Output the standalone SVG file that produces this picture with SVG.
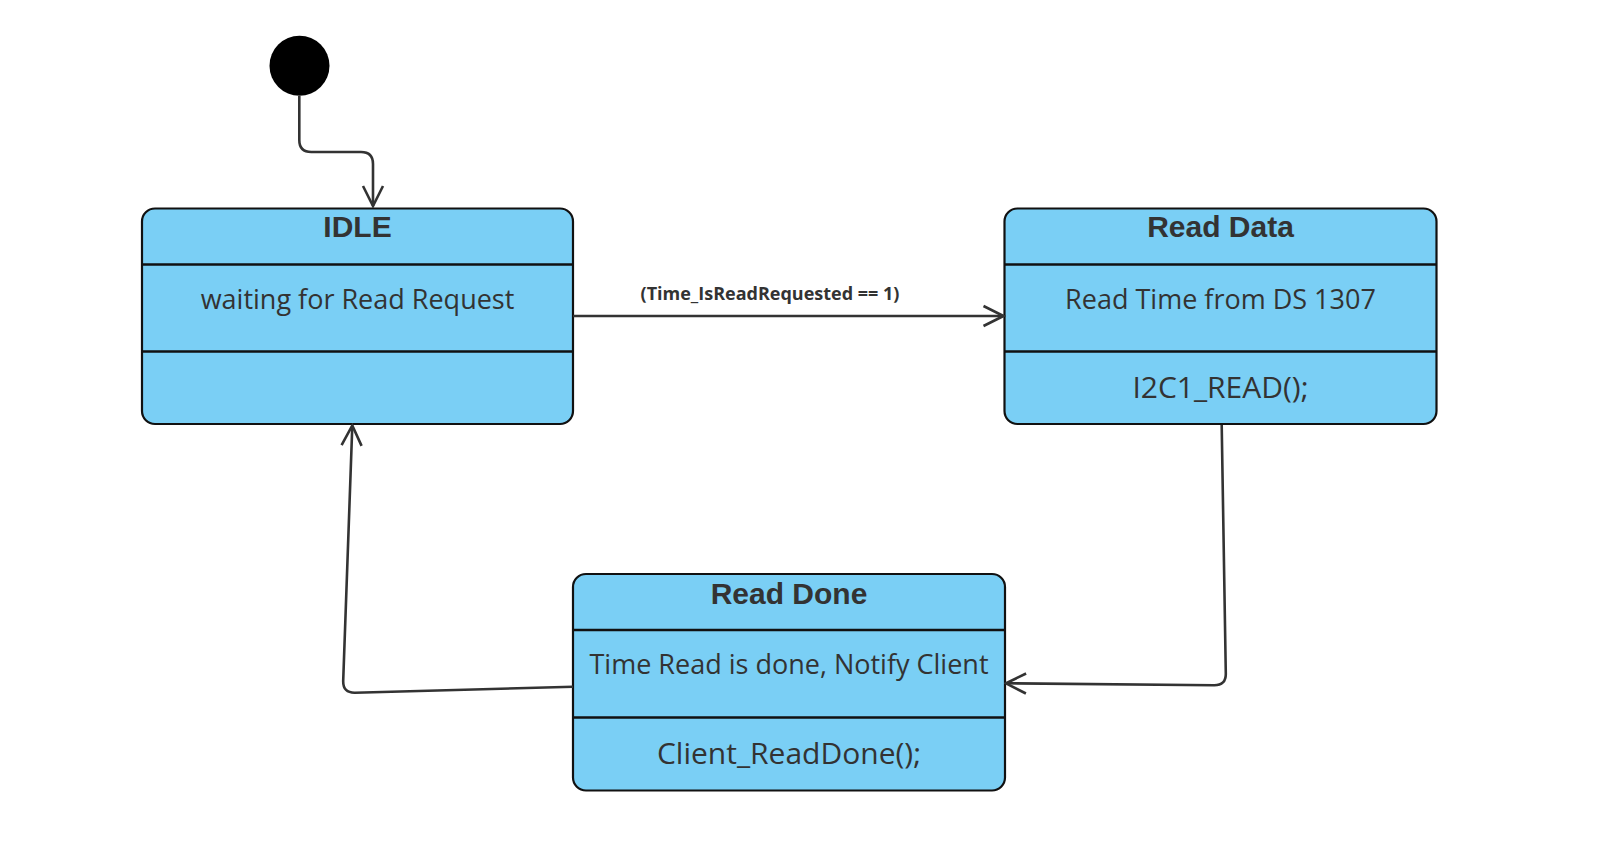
<svg xmlns="http://www.w3.org/2000/svg" width="1612" height="842" viewBox="0 0 1612 842">
<defs>
<style>
.box{fill:#7acff5;stroke:#111;stroke-width:2.2}
.div{stroke:#111;stroke-width:2.5}
.title{font-family:"Liberation Sans",Arial,sans-serif;font-weight:bold;font-size:30px;fill:#333;text-anchor:middle}
.body{font-family:"Open Sans","Noto Sans",sans-serif;font-size:27px;fill:#333;text-anchor:middle}
.act{font-family:"Open Sans","Noto Sans",sans-serif;font-size:30px;fill:#333;text-anchor:middle}
.lbl{font-family:"Open Sans","Noto Sans",sans-serif;font-weight:bold;font-size:18px;fill:#333;text-anchor:middle}
.con{fill:none;stroke:#333;stroke-width:2.6;stroke-linejoin:round}
</style>
<marker id="arr" viewBox="0 0 24 24" refX="22" refY="12" markerWidth="24" markerHeight="24" markerUnits="userSpaceOnUse" orient="auto">
<path d="M2,2 L22,12 L2,22" fill="none" stroke="#333" stroke-width="2.6"/>
</marker>
</defs>
<rect width="1612" height="842" fill="#fff"/>
<g id="start">
<circle cx="299.5" cy="65.7" r="30" fill="#000"/>
</g>
<g id="idle">
<rect class="box" x="142" y="208.5" width="431" height="215.5" rx="13"/>
<line class="div" x1="142" y1="264.5" x2="573" y2="264.5"/>
<line class="div" x1="142" y1="351.5" x2="573" y2="351.5"/>
<text class="title" x="357.5" y="237">IDLE</text>
<text class="body" x="357.5" y="308.5">waiting for Read Request</text>
</g>
<g id="readdata">
<rect class="box" x="1004.5" y="208.5" width="432" height="215.5" rx="13"/>
<line class="div" x1="1004.5" y1="264.5" x2="1436.5" y2="264.5"/>
<line class="div" x1="1004.5" y1="351.5" x2="1436.5" y2="351.5"/>
<text class="title" x="1220.5" y="237">Read Data</text>
<text class="body" x="1220.5" y="308.5">Read Time from DS 1307</text>
<text class="act" x="1220.5" y="398">I2C1_READ();</text>
</g>
<g id="readdone">
<rect class="box" x="573" y="574" width="432" height="216.5" rx="13"/>
<line class="div" x1="573" y1="630" x2="1005" y2="630"/>
<line class="div" x1="573" y1="717.5" x2="1005" y2="717.5"/>
<text class="title" x="789" y="604">Read Done</text>
<text class="body" x="789" y="673.5">Time Read is done, Notify Client</text>
<text class="act" x="789" y="764">Client_ReadDone();</text>
</g>
<g id="connectors">
<path class="con" d="M299.3,96 V140 Q299.3,152 311.3,152 H361 Q373,152 373,164 V206" marker-end="url(#arr)"/>
<path class="con" d="M573,316 H1003.5" marker-end="url(#arr)"/>
<text class="lbl" x="770" y="299.5">(Time_IsReadRequested == 1)</text>
<path class="con" d="M1221.7,425 L1225.8,673.5 Q1226,685.5 1214,685.3 L1006,683.3" marker-end="url(#arr)"/>
<path class="con" d="M573,686.7 L355,692.7 Q343,693 343.2,681 L352.3,425.5" marker-end="url(#arr)"/>
</g>
</svg>
